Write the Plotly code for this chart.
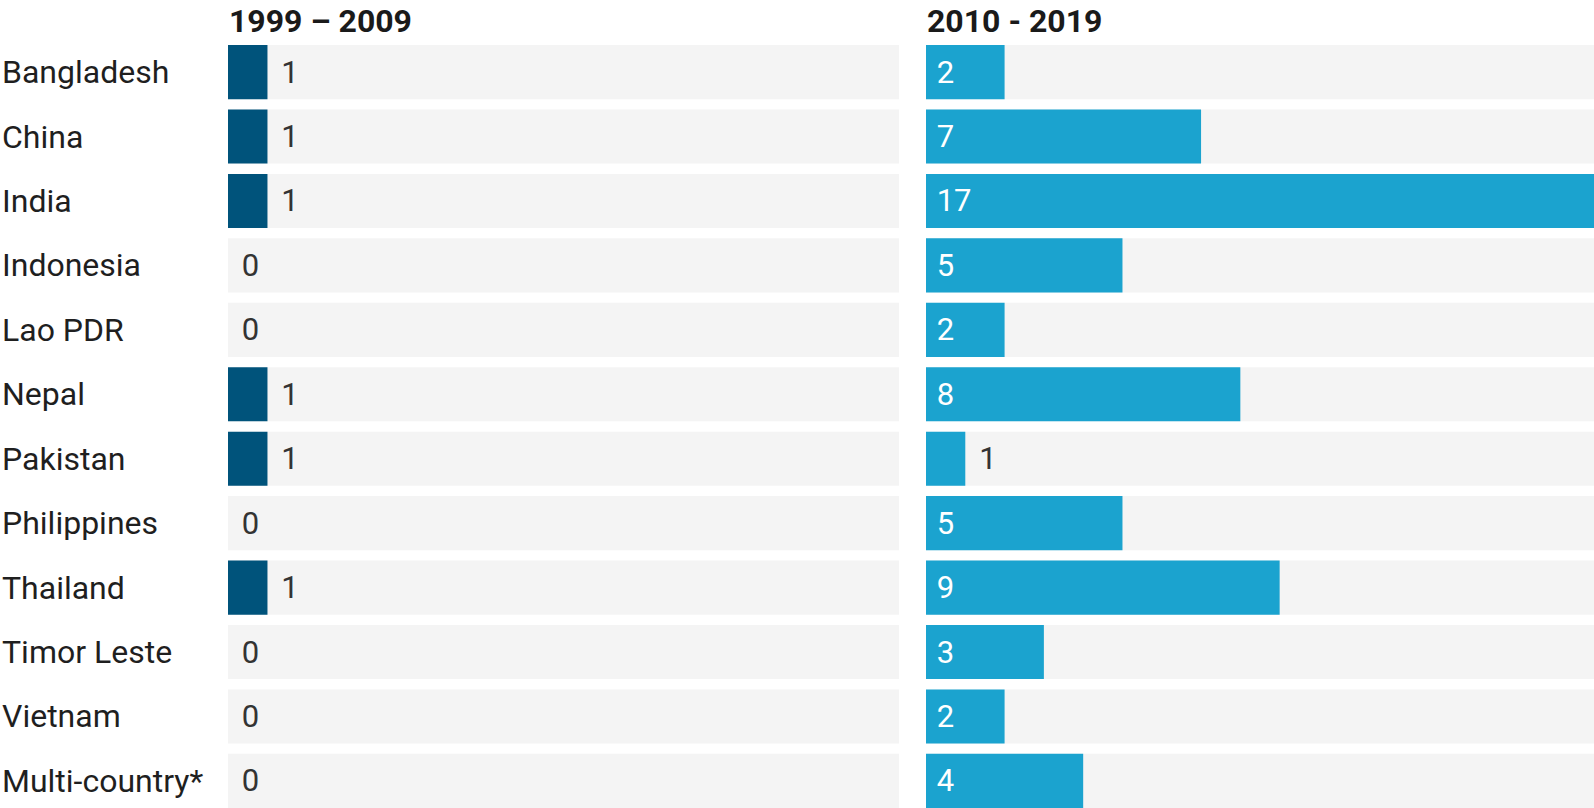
import plotly.graph_objects as go

countries = ["Bangladesh", "China", "India", "Indonesia", "Lao PDR", "Nepal",
             "Pakistan", "Philippines", "Thailand", "Timor Leste", "Vietnam",
             "Multi-country*"]
period1_label = "1999 \u2013 2009"
period2_label = "2010 - 2019"
period1 = [1, 1, 1, 0, 0, 1, 1, 0, 1, 0, 0, 0]
period2 = [2, 7, 17, 5, 2, 8, 1, 5, 9, 3, 2, 4]

max_val = max(max(period1), max(period2))
rows = list(range(len(countries)))
NB = "\u00a0"
HAIR = "\u200a"
FONT = "Roboto"
W, H = 1594, 808

dom1 = [228 / W, 899 / W]
dom2 = [926 / W, 1.0]

fig = go.Figure()

def add_panel(vals, color, xa):
    fig.add_trace(go.Bar(
        y=rows, x=[max_val] * len(rows), orientation="h", width=0.84,
        marker=dict(color="#f4f4f4", line=dict(width=0)),
        xaxis=xa, yaxis="y", hoverinfo="skip", showlegend=False))
    inside = [v >= 2 for v in vals]
    fig.add_trace(go.Bar(
        y=rows, x=vals, orientation="h", width=0.84,
        marker=dict(color=color, line=dict(width=0)),
        text=[(NB if ins else NB + HAIR) + str(v) for v, ins in zip(vals, inside)],
        textposition=["inside" if ins else "outside" for ins in inside],
        insidetextanchor="start",
        insidetextfont=dict(family=FONT, size=31, color="white"),
        outsidetextfont=dict(family=FONT, size=31, color="#333333"),
        constraintext="none", cliponaxis=False,
        xaxis=xa, yaxis="y", hoverinfo="skip", showlegend=False))

add_panel(period1, "#00537B", "x")
add_panel(period2, "#1BA3CF", "x2")

annotations = []
for i, c in enumerate(countries):
    annotations.append(dict(
        text=c, x=0, xref="paper", xanchor="left", y=i, yref="y",
        yanchor="middle", showarrow=False,
        font=dict(family=FONT, size=32, color="#1f1f1f")))
for lab, d in [(period1_label, dom1), (period2_label, dom2)]:
    annotations.append(dict(
        text="<b>" + lab + "</b>", x=d[0], xref="paper", xanchor="left",
        y=1, yref="paper", yanchor="bottom", yshift=4, borderpad=0,
        showarrow=False,
        font=dict(family=FONT, size=32, color="#1a1a1a")))

axis_common = dict(showgrid=False, zeroline=False, showticklabels=False,
                   showline=False, ticks="", range=[0, max_val], fixedrange=True)
fig.update_layout(
    width=W, height=H,
    margin=dict(l=0, r=0, t=45, b=0, pad=0),
    barmode="overlay",
    plot_bgcolor="white", paper_bgcolor="white",
    xaxis=dict(domain=dom1, anchor="y", **axis_common),
    xaxis2=dict(domain=dom2, anchor="y", **axis_common),
    yaxis=dict(range=[len(rows) - 1 + 0.42, -0.42], showgrid=False,
               zeroline=False, showticklabels=False, showline=False, ticks="",
               fixedrange=True),
    annotations=annotations,
    font=dict(family=FONT),
)

fig.write_html("out.html",
               config={"displayModeBar": False},
               post_script="document.body.style.margin='0';"
                           "document.body.style.overflow='hidden';")
